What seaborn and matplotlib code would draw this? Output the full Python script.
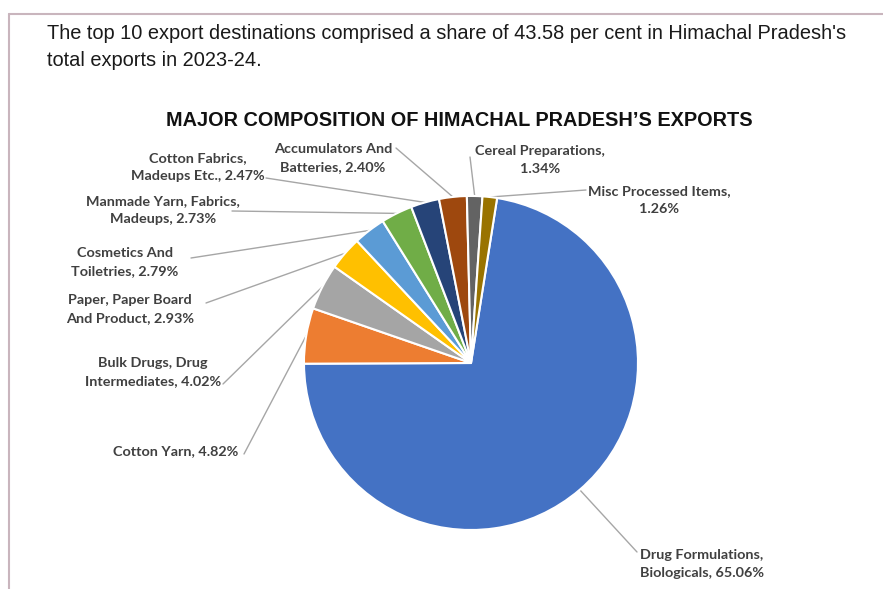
import numpy as np
import matplotlib.pyplot as plt
import seaborn as sns
from matplotlib.lines import Line2D

# export shares (%), clockwise from the top of the pie
names = ["Drug Formulations,\nBiologicals", "Cotton Yarn", "Bulk Drugs, Drug\nIntermediates",
         "Paper, Paper Board\nAnd Product", "Cosmetics And\nToiletries", "Manmade Yarn, Fabrics,\nMadeups",
         "Cotton Fabrics,\nMadeups Etc.", "Accumulators And\nBatteries", "Cereal Preparations",
         "Misc Processed Items"]
shares = [65.06, 4.82, 4.02, 2.93, 2.79, 2.73, 2.47, 2.40, 1.34, 1.26]
value_sep = [" ", " ", " ", " ", " ", " ", " ", " ", "\n", "\n"]
colors = ["#4472C4", "#ED7D31", "#A5A5A5", "#FFC000", "#5B9BD5", "#70AD47",
          "#264478", "#9E480E", "#636363", "#997300"]

intro = ("The top 10 export destinations comprised a share of 43.58 per cent in Himachal Pradesh's\n"
         "total exports in 2023-24.")
title = "MAJOR COMPOSITION OF HIMACHAL PRADESH\u2019S EXPORTS"

W, H = 883, 589


def Y(y):
    # picture rows run downward, data y runs upward
    return H - y


# label layout: text position, alignment, start of the leader line
label_pos = [(640, 564, "left"), (176, 451, "center"), (153, 372, "center"), (130, 309, "center"),
             (125, 262, "center"), (163, 210, "center"), (198, 167, "center"), (333, 158, "center"),
             (540, 160, "center"), (659, 200, "center")]
line_start = [(637, 552), (244, 454), (223, 384), (206, 303), (191, 258), (232, 211),
              (266, 178), (396, 148), (470, 157), (586, 190)]

sns.set_theme(style="white")
plt.rcParams["font.family"] = ["Lato", "DejaVu Sans"]

fig = plt.figure(figsize=(W / 100, H / 100), dpi=100)
ax = fig.add_axes([0, 0, 1, 1])

explode = [0.0] + [0.045] * (len(shares) - 1)
wedges, _ = ax.pie(shares, colors=colors, startangle=81, counterclock=False,
                   explode=explode, center=(471, Y(363)), radius=167,
                   wedgeprops=dict(edgecolor="white", linewidth=1.5))

for i, w in enumerate(wedges):
    mid = np.deg2rad((w.theta1 + w.theta2) / 2)
    cx, cy = w.center
    px, py = cx + w.r * np.cos(mid), cy + w.r * np.sin(mid)
    sx, sy = line_start[i]
    ax.plot([sx, px], [Y(sy), py], color="#a6a6a6", lw=1.0, zorder=0)
    tx, ty, ha = label_pos[i]
    label = f"{names[i]},{value_sep[i]}{shares[i]:.2f}%"
    ax.text(tx, Y(ty), label, ha=ha, va="center", fontsize=10.4, fontweight="bold",
            color="#404040", linespacing=1.6, multialignment="center" if ha == "center" else "left")

ax.text(47, Y(47), intro, ha="left", va="center", fontsize=14.4, color="#1a1a1a",
        family=["Liberation Sans", "DejaVu Sans"], linespacing=1.55)
ax.text(459, Y(120), title, ha="center", va="center", fontsize=14.3, fontweight="bold",
        color="#111111", family=["Liberation Sans", "DejaVu Sans"])

# page border
fig.add_artist(Line2D([9 / W, 1], [1 - 14 / H, 1 - 14 / H], color="#c9b5bd", lw=1.5))
fig.add_artist(Line2D([9 / W, 9 / W], [0, 1 - 14 / H], color="#c9b5bd", lw=1.5))

ax.set_xlim(0, W)
ax.set_ylim(0, H)
ax.set_aspect("equal")
ax.axis("off")

fig.savefig("out.png", dpi=100)
